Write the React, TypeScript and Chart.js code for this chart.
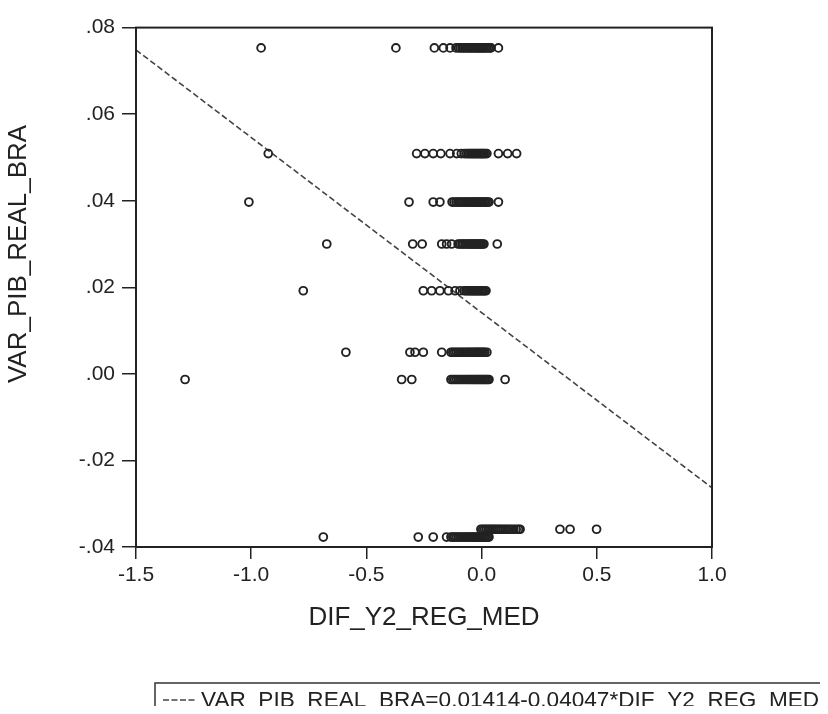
import React, { useEffect, useRef } from "react";
import { Chart, registerables } from "chart.js";

Chart.register(...registerables);

const FONT = "'Liberation Sans', Arial, Helvetica, sans-serif";

// y level of each row of observations (VAR_PIB_REAL_BRA)
const rowY = [0.0753, 0.0509, 0.0397, 0.03, 0.0192, 0.005, -0.0013, -0.0359, -0.0377];

// x values (DIF_Y2_REG_MED) of the observations in each row
const xRow1 = [-0.957, -0.372, -0.205, -0.166, -0.137, -0.111, -0.1, -0.093, -0.085, -0.078, -0.071, -0.064, -0.057, -0.05, -0.044, -0.038, -0.031, -0.025, -0.019, -0.013, -0.008, -0.002, 0.004, 0.01, 0.016, 0.022, 0.029, 0.036, 0.041, 0.073];
const xRow2 = [-0.926, -0.282, -0.246, -0.21, -0.177, -0.137, -0.108, -0.088, -0.075, -0.066, -0.059, -0.052, -0.046, -0.04, -0.034, -0.028, -0.022, -0.016, -0.011, -0.005, 0.0, 0.005, 0.01, 0.016, 0.023, 0.073, 0.113, 0.152];
const xRow3 = [-1.01, -0.315, -0.21, -0.181, -0.128, -0.12, -0.111, -0.103, -0.095, -0.087, -0.079, -0.071, -0.064, -0.057, -0.05, -0.043, -0.036, -0.03, -0.024, -0.018, -0.012, -0.006, 0.0, 0.006, 0.012, 0.018, 0.025, 0.032, 0.073];
const xRow4 = [-0.672, -0.299, -0.258, -0.173, -0.152, -0.13, -0.102, -0.093, -0.085, -0.078, -0.07, -0.063, -0.056, -0.049, -0.043, -0.037, -0.031, -0.025, -0.019, -0.013, -0.007, -0.002, 0.004, 0.01, 0.068];
const xRow5 = [-0.774, -0.253, -0.217, -0.181, -0.144, -0.115, -0.094, -0.076, -0.068, -0.061, -0.054, -0.047, -0.041, -0.035, -0.029, -0.023, -0.017, -0.011, -0.005, 0.001, 0.007, 0.013, 0.019];
const xRow6 = [-0.589, -0.311, -0.289, -0.253, -0.173, -0.133, -0.125, -0.117, -0.109, -0.101, -0.093, -0.085, -0.077, -0.069, -0.062, -0.055, -0.048, -0.041, -0.034, -0.028, -0.022, -0.016, -0.01, -0.004, 0.002, 0.008, 0.014, 0.023];
const xRow7 = [-1.287, -0.347, -0.303, -0.133, -0.125, -0.117, -0.109, -0.101, -0.093, -0.085, -0.077, -0.069, -0.062, -0.055, -0.048, -0.041, -0.034, -0.028, -0.022, -0.016, -0.01, -0.004, 0.002, 0.008, 0.014, 0.02, 0.026, 0.032, 0.102];
const xRow8 = [-0.003, 0.005, 0.013, 0.021, 0.029, 0.037, 0.045, 0.053, 0.061, 0.069, 0.077, 0.085, 0.094, 0.103, 0.112, 0.121, 0.13, 0.14, 0.15, 0.16, 0.167, 0.34, 0.384, 0.499];
const xRow9 = [-0.687, -0.275, -0.21, -0.152, -0.133, -0.125, -0.117, -0.109, -0.101, -0.093, -0.085, -0.077, -0.069, -0.062, -0.055, -0.048, -0.041, -0.034, -0.028, -0.022, -0.016, -0.01, -0.004, 0.002, 0.008, 0.014, 0.02, 0.026, 0.032];

const rowsX = [xRow1, xRow2, xRow3, xRow4, xRow5, xRow6, xRow7, xRow8, xRow9];

// fitted line end points: VAR_PIB_REAL_BRA = 0.01414 - 0.04047 * DIF_Y2_REG_MED
const fitX = [-1.5, 1.0];
const fitY = [0.07485, -0.02633];
const fitLabel = "VAR_PIB_REAL_BRA=0.01414-0.04047*DIF_Y2_REG_MED";

const xTitle = "DIF_Y2_REG_MED";
const yTitle = "VAR_PIB_REAL_BRA";
const xMin = -1.5, xMax = 1.0, xStep = 0.5;
const yMin = -0.04, yMax = 0.08, yStep = 0.02;

const INK = "#222";

const frameAndLegend = {
  id: "frameAndLegend",
  afterDatasetsDraw(chart: any) {
    const { ctx, chartArea } = chart;
    ctx.save();
    ctx.strokeStyle = INK;
    ctx.lineWidth = 2;
    ctx.strokeRect(chartArea.left, chartArea.top, chartArea.right - chartArea.left, chartArea.bottom - chartArea.top);
    ctx.restore();
  },
  afterDraw(chart: any) {
    const { ctx } = chart;
    ctx.save();
    // y-axis title
    ctx.fillStyle = INK;
    ctx.font = `26px ${FONT}`;
    ctx.textAlign = "center";
    ctx.textBaseline = "middle";
    ctx.translate(11, 246);
    ctx.rotate(-Math.PI / 2);
    ctx.fillText(yTitle, 0, 0);
    ctx.restore();

    ctx.save();
    ctx.strokeStyle = "#333";
    ctx.lineWidth = 1.5;
    ctx.strokeRect(147, 675, 720, 60);
    ctx.strokeStyle = "#444";
    ctx.setLineDash([6, 2.5]);
    ctx.lineWidth = 1.6;
    ctx.beginPath();
    ctx.moveTo(155, 692);
    ctx.lineTo(188, 692);
    ctx.stroke();
    ctx.setLineDash([]);
    ctx.fillStyle = INK;
    ctx.font = `22.6px ${FONT}`;
    ctx.textBaseline = "middle";
    ctx.fillText(chart.data.datasets[1].label, 193, 693);
    ctx.restore();
  },
};

export default function App() {
  const ref = useRef<HTMLCanvasElement | null>(null);
  useEffect(() => {
    if (!ref.current) return;
    const prevOverflow = document.body.style.overflow;
    document.body.style.overflow = "hidden";
    const points = rowsX.flatMap((xs, i) => xs.map((x) => ({ x, y: rowY[i] })));
    const fit = fitX.map((x, i) => ({ x, y: fitY[i] }));
    const chart = new Chart(ref.current, {
      type: "scatter",
      data: {
        datasets: [
          {
            label: "obs",
            data: points,
            pointStyle: "circle",
            pointRadius: 3.9,
            pointBorderWidth: 1.9,
            pointBorderColor: INK,
            pointBackgroundColor: "rgba(0,0,0,0)",
            showLine: false,
          } as any,
          {
            type: "line",
            label: fitLabel,
            data: fit,
            showLine: true,
            borderColor: "#444",
            borderWidth: 1.6,
            borderDash: [6, 3],
            pointRadius: 0,
            fill: false,
          } as any,
        ],
      },
      options: {
        animation: false,
        responsive: false,
        devicePixelRatio: 1,
        layout: { padding: { left: 0, top: 16, right: 116, bottom: 73 } },
        plugins: { legend: { display: false }, tooltip: { enabled: false } },
        scales: {
          x: {
            type: "linear",
            min: xMin,
            max: xMax,
            afterFit: (s: any) => { s.height = 86; },
            ticks: {
              stepSize: xStep,
              color: INK,
              padding: 4,
              font: { family: FONT, size: 21 },
              callback: (v: any) => Number(v).toFixed(1),
            },
            grid: { drawOnChartArea: false, drawTicks: true, tickLength: 12, color: INK, lineWidth: 1.5 },
            border: { display: true, color: INK, width: 2 },
            title: {
              display: true,
              text: xTitle,
              color: INK,
              font: { family: FONT, size: 26 },
              padding: { top: 0, bottom: 0 },
            },
          },
          y: {
            type: "linear",
            min: yMin,
            max: yMax,
            afterFit: (s: any) => { s.width = 128; },
            ticks: {
              stepSize: yStep,
              color: INK,
              padding: 7,
              font: { family: FONT, size: 21 },
              callback: (v: any) => {
                let n = Number(v);
                if (Math.abs(n) < 1e-9) n = 0;
                return n.toFixed(2).replace(/^(-?)0\./, "$1.");
              },
            },
            grid: { drawOnChartArea: false, drawTicks: true, tickLength: 14, color: INK, lineWidth: 1.5 },
            border: { display: true, color: INK, width: 2 },
            title: { display: false },
          },
        },
      },
      plugins: [frameAndLegend],
    });
    return () => {
      chart.destroy();
      document.body.style.overflow = prevOverflow;
    };
  }, []);
  return (
    <div style={{ width: 820, height: 698, background: "#fff" }}>
      <canvas ref={ref} width={820} height={698} style={{ display: "block" }} />
    </div>
  );
}
